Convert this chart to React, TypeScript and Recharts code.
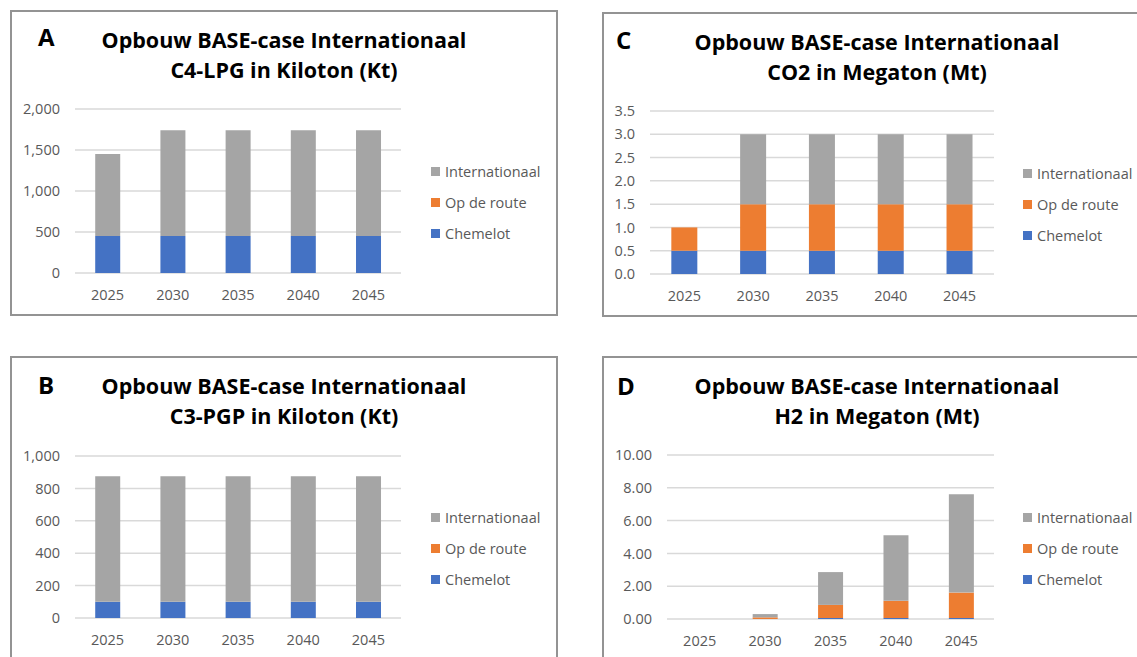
import React from 'react';
import { BarChart, Bar, XAxis, YAxis, CartesianGrid, Legend } from 'recharts';

const YEARS = ['2025', '2030', '2035', '2040', '2045'];

// A: C4-LPG (Kt)
const C4_CHEMELOT = [450, 450, 450, 450, 450];
const C4_OP_DE_ROUTE = [0, 0, 0, 0, 0];
const C4_INTERNATIONAAL = [1000, 1290, 1290, 1290, 1290];
const C4_TICKS = [0, 500, 1000, 1500, 2000];

// B: C3-PGP (Kt)
const C3_CHEMELOT = [100, 100, 100, 100, 100];
const C3_OP_DE_ROUTE = [0, 0, 0, 0, 0];
const C3_INTERNATIONAAL = [775, 775, 775, 775, 775];
const C3_TICKS = [0, 200, 400, 600, 800, 1000];

// C: CO2 (Mt)
const CO2_CHEMELOT = [0.5, 0.5, 0.5, 0.5, 0.5];
const CO2_OP_DE_ROUTE = [0.5, 1.0, 1.0, 1.0, 1.0];
const CO2_INTERNATIONAAL = [0, 1.5, 1.5, 1.5, 1.5];
const CO2_TICKS = [0, 0.5, 1.0, 1.5, 2.0, 2.5, 3.0, 3.5];

// D: H2 (Mt)
const H2_CHEMELOT = [0, 0, 0.06, 0.06, 0.06];
const H2_OP_DE_ROUTE = [0, 0.1, 0.8, 1.05, 1.55];
const H2_INTERNATIONAAL = [0, 0.2, 2.0, 4.0, 6.0];
const H2_TICKS = [0, 2, 4, 6, 8, 10];

const COLORS = {
  chemelot: '#4472c4',
  opDeRoute: '#ed7d31',
  internationaal: '#a5a5a5',
};

const FONT = '"Open Sans", sans-serif';
const TEXT = '#595959';

const buildRows = (ch: number[], op: number[], int: number[]) =>
  YEARS.map((year, i) => ({ year, Chemelot: ch[i], 'Op de route': op[i], Internationaal: int[i] }));

// legend order is top-down, reverse of the stack
const LegendBox = () => {
  const items = [
    { name: 'Internationaal', color: COLORS.internationaal },
    { name: 'Op de route', color: COLORS.opDeRoute },
    { name: 'Chemelot', color: COLORS.chemelot },
  ];
  return (
    <div style={{ fontFamily: FONT, fontSize: 14.5, color: TEXT }}>
      {items.map((it) => (
        <div key={it.name} style={{ height: 31, display: 'flex', alignItems: 'center', whiteSpace: 'nowrap' }}>
          <span style={{ width: 9, height: 9, background: it.color, marginRight: 5, display: 'inline-block' }} />
          {it.name}
        </div>
      ))}
    </div>
  );
};

interface PanelProps {
  letter: string;
  line1: string;
  line2: string;
  left: number;
  top: number;
  width: number;
  height: number;
  yWidth: number;
  margin: { top: number; right: number; bottom: number; left: number };
  rows: any[];
  ticks: number[];
  fmt: (v: number) => string;
  letterX: number;
  letterDy: number;
}

const Panel = (p: PanelProps) => (
  <>
    <div
      style={{
        position: 'absolute', left: p.left, top: p.top, width: p.width, height: p.height,
        border: '2px solid #939393', boxSizing: 'border-box',
      }}
    />
    <div style={{ position: 'absolute', left: p.left, top: p.top }}>
      <BarChart width={p.width} height={p.height} data={p.rows} margin={p.margin} barCategoryGap="31%">
        <CartesianGrid vertical={false} stroke="#d9d9d9" strokeWidth={1.5} />
        <XAxis
          dataKey="year"
          axisLine={false}
          tickLine={false}
          tickMargin={11}
          tick={{ fill: TEXT, fontSize: 14.5, fontFamily: FONT }}
        />
        <YAxis
          width={p.yWidth}
          domain={[p.ticks[0], p.ticks[p.ticks.length - 1]]}
          ticks={p.ticks}
          interval={0}
          axisLine={false}
          tickLine={false}
          tickMargin={9}
          tickFormatter={p.fmt}
          tick={{ fill: TEXT, fontSize: 14.5, fontFamily: FONT }}
        />
        <Bar dataKey="Chemelot" stackId="a" fill={COLORS.chemelot} isAnimationActive={false} />
        <Bar dataKey="Op de route" stackId="a" fill={COLORS.opDeRoute} isAnimationActive={false} />
        <Bar dataKey="Internationaal" stackId="a" fill={COLORS.internationaal} isAnimationActive={false} />
        <Legend
          layout="vertical"
          align="center"
          verticalAlign="middle"
          content={<LegendBox />}
          wrapperStyle={{ left: 421, top: 146, width: 'auto' }}
        />
      </BarChart>
    </div>
    <div
      style={{
        position: 'absolute', left: p.left, top: p.top + 15, width: p.width, textAlign: 'center',
        fontFamily: FONT, fontWeight: 700, fontSize: 21.5, lineHeight: '30px', color: '#000',
      }}
    >
      <div>{p.line1}</div>
      <div>{p.line2}</div>
    </div>
    <div
      style={{
        position: 'absolute', left: p.letterX, top: p.top + p.letterDy, fontFamily: FONT,
        fontWeight: 700, fontSize: 24, lineHeight: '30px', color: '#000',
      }}
    >
      {p.letter}
    </div>
  </>
);

const kt = (v: number) => v.toLocaleString('en-US');

export default function App() {
  return (
    <div style={{ position: 'absolute', left: 0, top: 0, width: 1137, height: 657, overflow: 'hidden', background: '#fff' }}>
      <Panel
        letter="A" line1="Opbouw BASE-case Internationaal" line2="C4-LPG in Kiloton (Kt)"
        left={10} top={10} width={548} height={306} yWidth={60}
        margin={{ top: 99, right: 157, bottom: 13, left: 5 }}
        rows={buildRows(C4_CHEMELOT, C4_OP_DE_ROUTE, C4_INTERNATIONAAL)} ticks={C4_TICKS} fmt={kt}
        letterX={38} letterDy={12}
      />
      <Panel
        letter="C" line1="Opbouw BASE-case Internationaal" line2="CO2 in Megaton (Mt)"
        left={602} top={12} width={550} height={305} yWidth={40}
        margin={{ top: 99, right: 158, bottom: 13, left: 8 }}
        rows={buildRows(CO2_CHEMELOT, CO2_OP_DE_ROUTE, CO2_INTERNATIONAAL)} ticks={CO2_TICKS}
        fmt={(v) => v.toFixed(1)}
        letterX={616} letterDy={13}
      />
      <Panel
        letter="B" line1="Opbouw BASE-case Internationaal" line2="C3-PGP in Kiloton (Kt)"
        left={10} top={356} width={548} height={310} yWidth={60}
        margin={{ top: 100, right: 157, bottom: 18, left: 5 }}
        rows={buildRows(C3_CHEMELOT, C3_OP_DE_ROUTE, C3_INTERNATIONAAL)} ticks={C3_TICKS} fmt={kt}
        letterX={38} letterDy={14}
      />
      <Panel
        letter="D" line1="Opbouw BASE-case Internationaal" line2="H2 in Megaton (Mt)"
        left={602} top={356} width={550} height={310} yWidth={60}
        margin={{ top: 99, right: 158, bottom: 17, left: 5 }}
        rows={buildRows(H2_CHEMELOT, H2_OP_DE_ROUTE, H2_INTERNATIONAAL)} ticks={H2_TICKS}
        fmt={(v) => v.toFixed(2)}
        letterX={617} letterDy={15}
      />
    </div>
  );
}
